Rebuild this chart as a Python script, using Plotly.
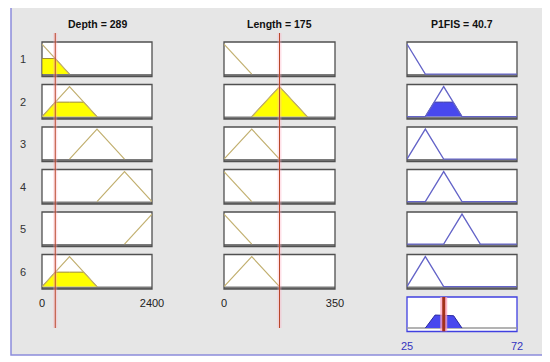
import numpy as np
import plotly.graph_objects as go

W, H = 550, 362
OX, OY = 8, 8   # page offset of the plot div

# ---------------- data ----------------
input_names = ["Depth", "Length"]
output_name = "P1FIS"
depth_value = 289
length_value = 175
output_value = 40.7

depth_range = [0, 2400]
length_range = [0, 350]
output_range = [25, 72]

depth_ticks = [0, 2400]
length_ticks = [0, 350]
output_ticks = [25, 72]

rule_labels = ["1", "2", "3", "4", "5", "6"]

# triangular membership functions used by each rule (a, b, c)
depth_mf = [[-600, 0, 600], [0, 600, 1200], [600, 1200, 1800],
            [1200, 1800, 2400], [1800, 2400, 3000], [0, 600, 1200]]
length_mf = [[-87.5, 0, 87.5], [87.5, 175, 262.5], [0, 87.5, 175],
             [-87.5, 0, 87.5], [-87.5, 0, 87.5], [0, 87.5, 175]]
output_mf = [[17.17, 25, 32.83], [32.83, 40.67, 48.5], [25, 32.83, 40.67],
             [32.83, 40.67, 48.5], [40.67, 48.5, 56.33], [25, 32.83, 40.67]]

# ---------------- helpers ----------------
def trimf(x, p):
    a, b, c = p
    return np.interp(x, [a, b, c], [0, 1, 0], left=0, right=0)


def curve(p, lo, hi, cap=1.0, trim=True):
    a, b, c = p
    xs = [lo, hi, a, b, c]
    if cap < 1:
        xs += [a + cap * (b - a), c - cap * (c - b)]
    xs = sorted({float(x) for x in xs if lo <= x <= hi})
    ys = [min(float(trimf(x, p)), cap) for x in xs]
    if trim:
        pos = [i for i, y in enumerate(ys) if y > 1e-9]
        if pos:
            i0 = max(pos[0] - 1, 0)
            i1 = min(pos[-1] + 1, len(xs) - 1)
            xs, ys = xs[i0:i1 + 1], ys[i0:i1 + 1]
    return xs, ys


def fill_poly(p, lo, hi, cap):
    xs, ys = curve(p, lo, hi, cap, True)
    return [xs[0]] + xs + [xs[-1]], [0] + ys + [0]


def sfx(k):
    return "" if k == 1 else str(k)


def fx_(x):
    return (x - OX) / W


def fy_(y):
    return 1 - (y - OY) / H


# ---------------- layout geometry (screen pixels) ----------------
col_px = [(42, 152), (224, 335), (407, 517)]
row_top = [42 + 42.5 * i for i in range(6)]
agg_top = 42 + 42.5 * 6
box_h = 34.5
yr_box = [-0.08, 1.07]
yr_agg = [-0.126, 1.148]
line_top, line_bot = 33, 328

fig = go.Figure()
layout = {}
shapes = []
annotations = []

# gray panel
shapes.append(dict(type="rect", xref="paper", yref="paper",
                   x0=fx_(11), x1=fx_(543), y0=fy_(355), y1=fy_(6),
                   line=dict(color="#8c8cdc", width=1.5), fillcolor="#e6e6e6",
                   layer="below"))


def add_axes(k, xpx, ytop, h, xr, yr, ticks=None, tickcolor="#222"):
    s = sfx(k)
    xa = dict(domain=[fx_(xpx[0]), fx_(xpx[1])], range=xr, anchor=f"y{s}",
              showgrid=False, zeroline=False, showline=False, fixedrange=True,
              automargin=False)
    if ticks is not None:
        xa.update(tickvals=ticks, ticktext=[str(t) for t in ticks], ticks="",
                  showticklabels=True, ticklabelstandoff=6,
                  tickfont=dict(family="Liberation Sans, Arial", size=11, color=tickcolor))
    else:
        xa.update(visible=False)
    ya = dict(domain=[fy_(ytop + h), fy_(ytop)], range=yr, anchor=f"x{s}",
              visible=False, fixedrange=True, automargin=False)
    layout[f"xaxis{s}"] = xa
    layout[f"yaxis{s}"] = ya


def add_box(k, border="#505050", bottom_bar=True):
    s = sfx(k)
    ref = dict(xref=f"x{s} domain", yref=f"y{s} domain")
    shapes.append(dict(type="rect", x0=0, x1=1, y0=0, y1=1, fillcolor="white",
                       line=dict(width=0), layer="below", **ref))
    if bottom_bar:
        shapes.append(dict(type="rect", x0=0, x1=1, y0=0, y1=2.6 / box_h,
                           fillcolor="#7a7a7a", line=dict(width=0), layer="below", **ref))
    shapes.append(dict(type="rect", x0=0, x1=1, y0=0, y1=1, fillcolor="rgba(0,0,0,0)",
                       line=dict(color=border, width=1.3), layer="below", **ref))


def line_trace(k, x, y, **kw):
    s = sfx(k)
    return go.Scatter(x=x, y=y, xaxis=f"x{s}", yaxis=f"y{s}", mode="lines",
                      hoverinfo="skip", showlegend=False, **kw)


inputs = [(depth_mf, depth_value, depth_range, depth_ticks),
          (length_mf, length_value, length_range, length_ticks)]

mu_inputs = [[float(trimf(val, p)) for p in mfs] for (mfs, val, _, _) in inputs]
firing = [min(mu_inputs[0][r], mu_inputs[1][r]) for r in range(6)]

k = 0
# input columns
for ci, (mfs, val, rng, tks) in enumerate(inputs):
    for r in range(6):
        k += 1
        add_axes(k, col_px[ci], row_top[r], box_h, rng, yr_box,
                 ticks=tks if r == 5 else None)
        add_box(k)
        mu = mu_inputs[ci][r]
        if mu > 1e-9:
            px, py = fill_poly(mfs[r], rng[0], rng[1], mu)
            fig.add_trace(line_trace(k, px, py, fill="toself", fillcolor="#ffff00",
                                     line=dict(color="#9c8a30", width=1)))
        cx, cy = curve(mfs[r], rng[0], rng[1], 1.0, True)
        fig.add_trace(line_trace(k, cx, cy, line=dict(color="#c2b070", width=1.2)))

# output column
for r in range(6):
    k += 1
    add_axes(k, col_px[2], row_top[r], box_h, output_range, yr_box)
    add_box(k)
    if firing[r] > 1e-9:
        px, py = fill_poly(output_mf[r], output_range[0], output_range[1], firing[r])
        fig.add_trace(line_trace(k, px, py, fill="toself", fillcolor="#4848ee",
                                 line=dict(color="#3030a8", width=1)))
    cx, cy = curve(output_mf[r], output_range[0], output_range[1], 1.0, False)
    fig.add_trace(line_trace(k, cx, cy, line=dict(color="#6464c8", width=1.3)))

# aggregate box
k += 1
agg_k = k
add_axes(agg_k, col_px[2], agg_top, box_h, output_range, yr_agg,
         ticks=output_ticks, tickcolor="#3434c0")
add_box(agg_k, border="#4040e0", bottom_bar=False)
fig.add_trace(line_trace(agg_k, output_range, [0, 0],
                         line=dict(color="#9a9a9a", width=1.5)))
xg = np.linspace(output_range[0], output_range[1], 1881)
agg = np.zeros_like(xg)
for r in range(6):
    agg = np.maximum(agg, np.minimum(trimf(xg, output_mf[r]), firing[r]))
nz = np.nonzero(agg > 1e-9)[0]
if len(nz):
    i0, i1 = max(nz[0] - 1, 0), min(nz[-1] + 1, len(xg) - 1)
    fig.add_trace(line_trace(agg_k, xg[i0:i1 + 1], agg[i0:i1 + 1], fill="toself",
                             fillcolor="#4848ee", line=dict(color="#2a2aa0", width=1)))
fig.add_trace(line_trace(agg_k, [output_value, output_value], yr_agg,
                         line=dict(color="rgba(255,160,185,0.75)", width=7)))
fig.add_trace(line_trace(agg_k, [output_value, output_value], yr_agg,
                         line=dict(color="#a3301a", width=3)))

# input value lines (overlay axes spanning the column)
for ci, (mfs, val, rng, tks) in enumerate(inputs):
    k += 1
    add_axes(k, col_px[ci], line_top, line_bot - line_top, rng, [0, 1])
    fig.add_trace(line_trace(k, [val, val], [0, 1],
                             line=dict(color="rgba(255,170,190,0.35)", width=4)))
    fig.add_trace(line_trace(k, [val, val], [0, 1],
                             line=dict(color="#b8482a", width=1)))

# titles
title_font = dict(family="Liberation Sans, Arial", size=10.5, color="#111")
titles = [f"{input_names[0]} = {depth_value}", f"{input_names[1]} = {length_value}",
          f"{output_name} = {output_value}"]
for ci, t in enumerate(titles):
    annotations.append(dict(xref="paper", yref="paper",
                            x=fx_((col_px[ci][0] + col_px[ci][1]) / 2), y=fy_(24),
                            text=f"<b>{t}</b>", showarrow=False, font=title_font,
                            xanchor="center", yanchor="middle"))
# rule numbers
for r, lab in enumerate(rule_labels):
    annotations.append(dict(xref="paper", yref="paper", x=fx_(23),
                            y=fy_(row_top[r] + box_h / 2), text=lab, showarrow=False,
                            font=dict(family="Liberation Sans, Arial", size=11, color="#333"),
                            xanchor="center", yanchor="middle"))

fig.update_layout(width=W, height=H,
                  margin=dict(l=0, r=0, t=0, b=0, pad=0, autoexpand=False),
                  paper_bgcolor="white", plot_bgcolor="rgba(0,0,0,0)",
                  showlegend=False, shapes=shapes, annotations=annotations, **layout)

fig.write_html("out.html")
